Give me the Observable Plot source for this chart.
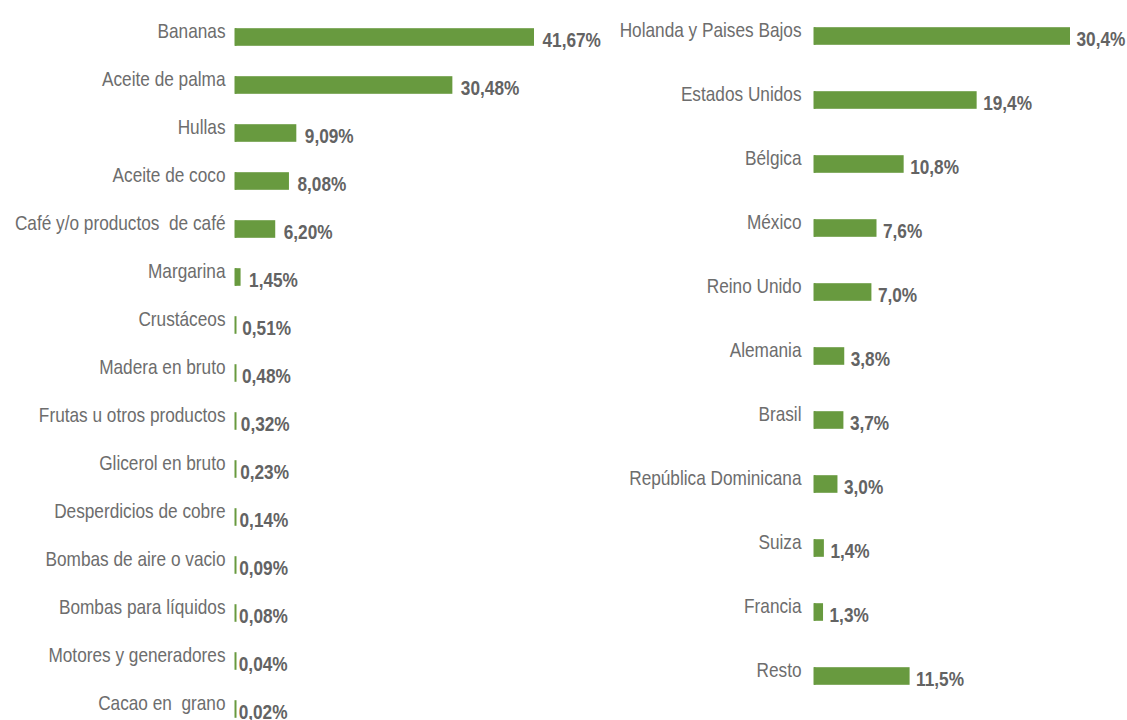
<!DOCTYPE html>
<html>
<head>
<meta charset="utf-8">
<script src="https://cdn.jsdelivr.net/npm/d3@7"></script>
<script src="https://cdn.jsdelivr.net/npm/@observablehq/plot@0.6"></script>
<style>
  html, body { margin: 0; padding: 0; background: #ffffff; }
  #wrap { display: flex; width: 1127px; height: 720px; overflow: hidden; }
</style>
</head>
<body>
<div id="wrap"></div>
<script>
const products = ["Bananas", "Aceite de palma", "Hullas", "Aceite de coco", "Café y/o productos  de café",
  "Margarina", "Crustáceos", "Madera en bruto", "Frutas u otros productos", "Glicerol en bruto",
  "Desperdicios de cobre", "Bombas de aire o vacio", "Bombas para líquidos", "Motores y generadores", "Cacao en  grano"];
const productShares = [41.67, 30.48, 9.09, 8.08, 6.20, 1.45, 0.51, 0.48, 0.32, 0.23, 0.14, 0.09, 0.08, 0.04, 0.02];

const countries = ["Holanda y Paises Bajos", "Estados Unidos", "Bélgica", "México", "Reino Unido",
  "Alemania", "Brasil", "República Dominicana", "Suiza", "Francia", "Resto"];
const countryShares = [30.4, 19.4, 10.8, 7.6, 7.0, 3.8, 3.7, 3.0, 1.4, 1.3, 11.5];

const GREEN = "#689A3F";
const LABEL = "#6d6d6d";
const VALUE = "#636363";
const FONT = "'Liberation Sans', Arial, sans-serif";
const CONDENSE = 0.82;

const fmt = (v, d) => v.toFixed(d).replace(".", ",") + "%";

function panel({cats, vals, decimals, width, marginLeft, marginRight, yRange, inset, barOffset,
                tickPadding, valDx}) {
  const data = cats.map((c, i) => ({cat: c, val: vals[i], label: fmt(vals[i], decimals)}));
  return Plot.plot({
    width, height: 720,
    marginLeft, marginRight, marginTop: 0, marginBottom: 0,
    style: {fontFamily: FONT, color: LABEL, background: "transparent", overflow: "visible"},
    x: {domain: [0, d3.max(vals)], axis: null},
    y: {domain: cats, range: yRange, padding: 0, label: null},
    marks: [
      Plot.barX(data, {x: "val", y: "cat", fill: GREEN, insetLeft: barOffset,
        insetTop: inset, insetBottom: inset}),
      // thin baseline stub so that the tiniest shares still show as a green sliver
      Plot.tickX(data, {x: () => 0, y: "cat", dx: barOffset, stroke: GREEN, strokeWidth: 2,
        insetTop: inset, insetBottom: inset}),
      Plot.axisY({tickSize: 0, tickPadding, dy: -6, fontSize: 21, fill: LABEL, label: null}),
      Plot.text(data, {x: "val", y: "cat", text: "label", textAnchor: "start", dx: valDx, dy: 2.5,
        fontSize: 21, fontWeight: "bold", fill: VALUE})
    ]
  });
}

const wrap = document.getElementById("wrap");
wrap.append(panel({cats: products, vals: productShares, decimals: 2,
  width: 605, marginLeft: 230, marginRight: 71, yRange: [9.8, 735.2], inset: 15.2, barOffset: 5,
  tickPadding: 5, valDx: 8}));
wrap.append(panel({cats: countries, vals: countryShares, decimals: 1,
  width: 522, marginLeft: 207, marginRight: 57, yRange: [0.8, 710.2], inset: 23.2, barOffset: 2,
  tickPadding: 11, valDx: 6}));

// condense the text horizontally to mimic the narrow typeface of the original
wrap.querySelectorAll("text").forEach(t => {
  const w = t.getComputedTextLength();
  if (w > 0) {
    t.setAttribute("textLength", (w * CONDENSE).toFixed(2));
    t.setAttribute("lengthAdjust", "spacingAndGlyphs");
  }
});
</script>
</body>
</html>
